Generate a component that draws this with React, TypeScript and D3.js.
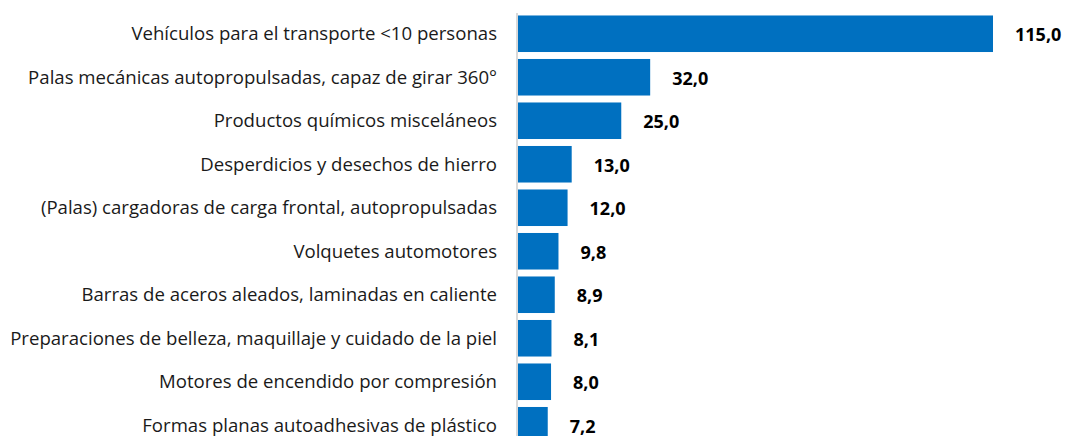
import { useEffect, useRef } from "react";
import * as d3 from "d3";

const categories = [
  "Vehículos para el transporte <10 personas",
  "Palas mecánicas autopropulsadas, capaz de girar 360°",
  "Productos químicos misceláneos",
  "Desperdicios y desechos de hierro",
  "(Palas) cargadoras de carga frontal, autopropulsadas",
  "Volquetes automotores",
  "Barras de aceros aleados, laminadas en caliente",
  "Preparaciones de belleza, maquillaje y cuidado de la piel",
  "Motores de encendido por compresión",
  "Formas planas autoadhesivas de plástico",
];
const values = [115.0, 32.0, 25.0, 13.0, 12.0, 9.8, 8.9, 8.1, 8.0, 7.2];

const App = () => {
  const ref = useRef<SVGSVGElement>(null);

  useEffect(() => {
    document.body.style.margin = "0";
    const svg = d3.select(ref.current);
    svg.selectAll("*").remove();

    const width = 1065;
    const height = 436;
    const left = 517;
    const font = "'Open Sans', 'Noto Sans', sans-serif";

    const x = d3.scaleLinear().domain([0, 115]).range([left + 1, 993]);
    const y = d3
      .scaleBand<string>()
      .domain(categories)
      .range([12, 447])
      .paddingInner(0.16)
      .paddingOuter(0.08);

    const data = categories.map((c, i) => ({ c, v: values[i] }));

    // bars
    svg
      .append("g")
      .selectAll("rect")
      .data(data)
      .join("rect")
      .attr("x", x(0))
      .attr("y", (d) => y(d.c)!)
      .attr("width", (d) => x(d.v) - x(0))
      .attr("height", y.bandwidth())
      .attr("fill", "#0070C0");

    // axis line
    svg
      .append("line")
      .attr("x1", left)
      .attr("x2", left)
      .attr("y1", 13)
      .attr("y2", height)
      .attr("stroke", "#d9d9d9")
      .attr("stroke-width", 2);

    // category labels
    const cats = svg
      .append("g")
      .selectAll("text")
      .data(data)
      .join("text")
      .attr("x", 497)
      .attr("y", (d) => y(d.c)! + y.bandwidth() / 2)
      .attr("dy", "0.35em")
      .attr("text-anchor", "end")
      .attr("font-family", font)
      .attr("font-size", "16px")
      .attr("fill", "#1a1a1a")
      .text((d) => d.c);

    // fit the longest label to the width seen in the picture (x 10 → 497)
    const longest = d3.max(cats.nodes(), (n) => (n as SVGTextElement).getComputedTextLength()) || 487;
    cats.attr("font-size", `${(16 * 487) / longest}px`);

    // value labels
    svg
      .append("g")
      .selectAll("text")
      .data(data)
      .join("text")
      .attr("x", (d) => x(d.v) + 22)
      .attr("y", (d) => y(d.c)! + y.bandwidth() / 2 + 1)
      .attr("dy", "0.36em")
      .attr("font-family", font)
      .attr("font-size", "18px")
      .attr("font-weight", "bold")
      .attr("fill", "#000")
      .text((d) => d3.format(".1f")(d.v).replace(".", ","));

    svg.attr("width", width).attr("height", height);
  }, []);

  return <svg ref={ref} style={{ display: "block" }} />;
};

export default App;
